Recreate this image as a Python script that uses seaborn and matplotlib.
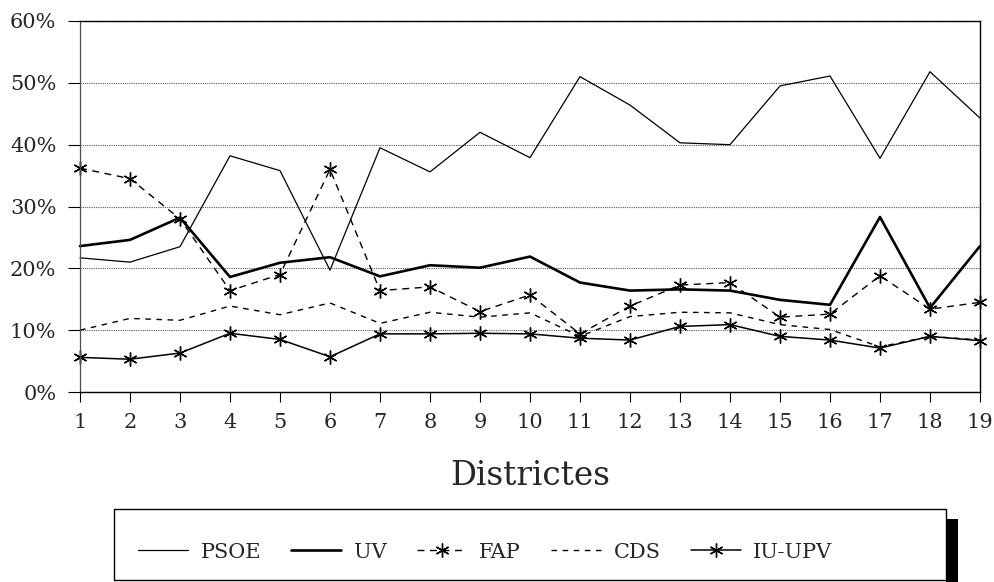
import numpy as np
import pandas as pd
import seaborn as sns
import matplotlib.pyplot as plt
from matplotlib.patches import Rectangle
from matplotlib.ticker import PercentFormatter

# vots per districte (%)
districtes = list(range(1, 20))
psoe = [21.7, 21.0, 23.5, 38.2, 35.8, 19.7, 39.5, 35.6, 42.0, 37.9,
        51.0, 46.4, 40.3, 40.0, 49.5, 51.1, 37.8, 51.8, 44.3]
uv = [23.6, 24.6, 28.2, 18.6, 20.9, 21.8, 18.7, 20.5, 20.1, 21.9,
      17.7, 16.4, 16.6, 16.4, 14.9, 14.1, 28.3, 13.6, 23.6]
fap = [36.2, 34.5, 28.0, 16.4, 19.0, 36.0, 16.4, 17.0, 13.0, 15.7,
       9.4, 13.9, 17.3, 17.7, 12.1, 12.6, 18.8, 13.4, 14.5]
cds = [10.0, 11.9, 11.6, 13.9, 12.5, 14.4, 11.1, 12.9, 12.1, 12.8,
       9.0, 12.2, 12.9, 12.8, 10.9, 10.1, 7.3, 9.0, 8.4]
iu_upv = [5.6, 5.3, 6.3, 9.5, 8.5, 5.7, 9.4, 9.4, 9.5, 9.4,
          8.7, 8.4, 10.6, 10.9, 9.0, 8.4, 7.1, 9.0, 8.3]

partits = ["PSOE", "UV", "FAP", "CDS", "IU-UPV"]
y_ticks = [0, 10, 20, 30, 40, 50, 60]

df = pd.DataFrame({"Districte": districtes, "PSOE": psoe, "UV": uv,
                   "FAP": fap, "CDS": cds, "IU-UPV": iu_upv})

sns.set_style("white")
plt.rcParams["font.family"] = "DejaVu Serif"

fig = plt.figure(figsize=(9.95, 5.82), dpi=100)
ax = fig.add_axes([80 / 995, 1 - 392 / 582, 900 / 995, 371 / 582])

asterisc = (6, 2, 0)
estrella = dict(marker=asterisc, markersize=10, mew=1.0,
                mec="black", mfc="black")
estils = {
    "PSOE": dict(lw=0.9, linestyle="-"),
    "UV": dict(lw=1.9, linestyle="-"),
    "FAP": dict(lw=1.0, linestyle=(0, (5, 4)), **estrella),
    "CDS": dict(lw=1.0, linestyle=(0, (4, 4))),
    "IU-UPV": dict(lw=1.1, linestyle="-", **estrella),
}

for p in partits:
    sns.lineplot(data=df, x="Districte", y=p, ax=ax, color="black",
                 label=p, legend=False, clip_on=False, **estils[p])

ax.set_xlim(1, 19)
ax.set_ylim(0, 60)
ax.set_xticks(districtes)
ax.set_yticks(y_ticks)
ax.yaxis.set_major_formatter(PercentFormatter(decimals=0))
ax.set_ylabel("")
ax.set_xlabel("Districtes", fontsize=23.5, labelpad=20)

ax.yaxis.grid(True, linestyle=(0, (1, 1)), color="0.35", lw=0.8)
ax.xaxis.grid(False)
ax.tick_params(axis="y", direction="out", length=9, width=0.8, pad=8,
               labelsize=15, left=True, color="black")
ax.tick_params(axis="x", direction="out", length=7, width=0.8, pad=8,
               labelsize=15, bottom=True, color="black")

for s in ["top", "right", "bottom"]:
    ax.spines[s].set_color("black")
    ax.spines[s].set_linewidth(1.0)
ax.spines["left"].set_color("0.3")
ax.spines["left"].set_linestyle((0, (4, 1, 1, 1)))
ax.spines["left"].set_linewidth(0.9)

# caixa de la llegenda amb ombra
fig.patches.append(Rectangle((946 / 995, 0), 12 / 995, 63 / 582,
                             transform=fig.transFigure, facecolor="black",
                             edgecolor="none", zorder=1))
fig.patches.append(Rectangle((114 / 995, 2 / 582), 832 / 995, 71 / 582,
                             transform=fig.transFigure, facecolor="white",
                             edgecolor="black", lw=1.0, zorder=2))

handles, labels = ax.get_legend_handles_labels()
leg = fig.legend(handles, labels, loc="center left",
                 bbox_to_anchor=(138 / 995, 1 - 552 / 582), ncol=5,
                 frameon=False, fontsize=15, handlelength=2.4,
                 handletextpad=0.6, columnspacing=1.45, borderpad=0,
                 borderaxespad=0, numpoints=1)
leg.set_zorder(3)

fig.savefig("out.png", dpi=100)
